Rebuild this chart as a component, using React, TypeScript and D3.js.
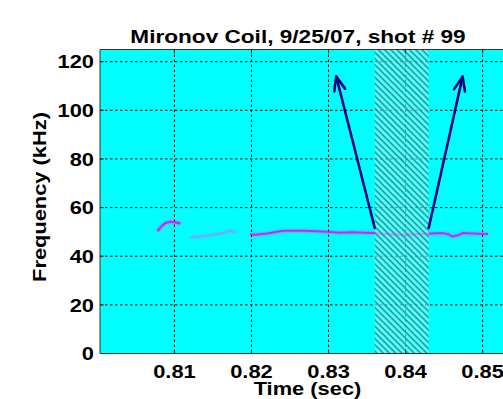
import React, { useEffect, useRef } from "react";
import * as d3 from "d3";

const title = "Mironov Coil, 9/25/07, shot # 99";
const xLabel = "Time (sec)";
const yLabel = "Frequency (kHz)";
const xTicks = [0.81, 0.82, 0.83, 0.84, 0.85];
const yTicks = [0, 20, 40, 60, 80, 100, 120];

// mode traces picked off the spectrogram (time in sec, freq in kHz)
const burstTime = [0.8078, 0.8083, 0.8088, 0.8094, 0.81, 0.8108];
const burstFreq = [50.3, 52.2, 53.6, 54.2, 54.0, 53.4];
const faintTime = [0.812, 0.8135, 0.815, 0.8163, 0.8172, 0.818];
const faintFreq = [47.7, 48.2, 48.8, 49.6, 50.6, 49.8];
const modeTime = [0.8198, 0.8205, 0.822, 0.8241, 0.8271, 0.8297, 0.8315, 0.833, 0.8357, 0.8393, 0.8427, 0.8448, 0.8456, 0.8461, 0.8468, 0.8474, 0.8496, 0.8507];
const modeFreq = [48.9, 48.8, 49.3, 50.5, 50.5, 50.1, 49.7, 49.9, 49.5, 48.7, 49.2, 49.5, 49.0, 48.1, 48.6, 49.5, 49.2, 49.1];

const bandStart = 0.836;
const bandEnd = 0.843;

const arrowTailTime = [0.836, 0.843];
const arrowTailFreq = [51.6, 51.6];
const arrowTipTime = [0.831, 0.8474];
const arrowTipFreq = [113.9, 113.8];

const font = "'Liberation Sans', Arial, Helvetica, sans-serif";

export default function App() {
  const ref = useRef<HTMLDivElement>(null);

  useEffect(() => {
    document.body.style.margin = "0";
    document.body.style.overflow = "hidden";
    const root = d3.select(ref.current);
    root.selectAll("*").remove();
    const width = 503;
    const height = 399;
    const left = 100;
    const right = 525;
    const top = 49.5;
    const bottom = 353.5;

    const svg = root
      .append("svg")
      .attr("width", width)
      .attr("height", height)
      .style("display", "block");

    const x = d3.scaleLinear().domain([0.80034, 0.8555]).range([left, right]);
    const y = d3.scaleLinear().domain([0, 125]).range([bottom, top]);

    const defs = svg.append("defs");
    const pat = defs
      .append("pattern")
      .attr("id", "hatch")
      .attr("patternUnits", "userSpaceOnUse")
      .attr("width", 4.4)
      .attr("height", 4.4)
      .attr("patternTransform", "rotate(45)");
    pat.append("rect").attr("width", 4.4).attr("height", 4.4).attr("fill", "#8cffff").attr("fill-opacity", 0.6);
    pat.append("rect").attr("width", 4.4).attr("height", 1.5).attr("fill", "#137a7a").attr("fill-opacity", 0.8);
    defs
      .append("clipPath")
      .attr("id", "plotclip")
      .append("rect")
      .attr("x", left)
      .attr("y", top)
      .attr("width", right - left)
      .attr("height", bottom - top);

    const plot = svg.append("g").attr("clip-path", "url(#plotclip)");
    plot
      .append("rect")
      .attr("x", left)
      .attr("y", top)
      .attr("width", right - left)
      .attr("height", bottom - top)
      .attr("fill", "#00ffff");

    // grid
    plot
      .selectAll("line.gx")
      .data(xTicks)
      .join("line")
      .attr("x1", (d) => x(d))
      .attr("x2", (d) => x(d))
      .attr("y1", top)
      .attr("y2", bottom)
      .attr("stroke", "#000")
      .attr("stroke-dasharray", "2.5,2.5")
      .attr("stroke-width", 1);
    plot
      .selectAll("line.gy")
      .data(yTicks)
      .join("line")
      .attr("x1", left)
      .attr("x2", right)
      .attr("y1", (d) => y(d))
      .attr("y2", (d) => y(d))
      .attr("stroke", "#000")
      .attr("stroke-dasharray", "2.5,2.5")
      .attr("stroke-width", 1);

    const line = d3
      .line<number>()
      .x((d) => x(d[0]))
      .y((d) => y(d[1]))
      .curve(d3.curveLinear);
    const traces = [
      { t: burstTime, f: burstFreq, c: "#ff00ff", w: 2.2, o: 0.9 },
      { t: faintTime, f: faintFreq, c: "#c070ff", w: 2.2, o: 0.5 },
      { t: modeTime, f: modeFreq, c: "#ff00ff", w: 2.0, o: 0.9 },
    ];
    traces.forEach((tr) => {
      const pts = tr.t.map((t, i) => [t, tr.f[i]]);
      plot
        .append("path")
        .attr("d", line(pts as any))
        .attr("fill", "none")
        .attr("stroke", tr.c)
        .attr("stroke-width", tr.w + 2.5)
        .attr("stroke-opacity", 0.15)
        .attr("stroke-linejoin", "round");
      plot
        .append("path")
        .attr("d", line(pts as any))
        .attr("fill", "none")
        .attr("stroke", tr.c)
        .attr("stroke-width", tr.w)
        .attr("stroke-opacity", tr.o)
        .attr("stroke-linejoin", "round");
    });

    // hatched band
    plot
      .append("rect")
      .attr("x", x(bandStart))
      .attr("y", top)
      .attr("width", x(bandEnd) - x(bandStart))
      .attr("height", bottom - top)
      .attr("fill", "url(#hatch)");

    // arrows
    arrowTailTime.forEach((_, i) => {
      const x0 = x(arrowTailTime[i]);
      const y0 = y(arrowTailFreq[i]);
      const x1 = x(arrowTipTime[i]);
      const y1 = y(arrowTipFreq[i]);
      const ang = Math.atan2(y1 - y0, x1 - x0);
      const hl = 15;
      const spread = 0.38;
      const g = plot.append("g").attr("stroke", "#000080").attr("stroke-width", 2.6).attr("fill", "none").attr("stroke-linecap", "round");
      g.append("line").attr("x1", x0).attr("y1", y0).attr("x2", x1).attr("y2", y1);
      [-spread, spread].forEach((s) => {
        g.append("line")
          .attr("x1", x1)
          .attr("y1", y1)
          .attr("x2", x1 - hl * Math.cos(ang + s))
          .attr("y2", y1 - hl * Math.sin(ang + s));
      });
    });

    // ticks inside
    const axes = svg.append("g").attr("stroke", "#222").attr("stroke-width", 1);
    xTicks.forEach((d) => {
      axes.append("line").attr("x1", x(d)).attr("x2", x(d)).attr("y1", top).attr("y2", top + 4);
      axes.append("line").attr("x1", x(d)).attr("x2", x(d)).attr("y1", bottom).attr("y2", bottom - 4);
    });
    yTicks.forEach((d) => {
      axes.append("line").attr("x1", left).attr("x2", left + 4).attr("y1", y(d)).attr("y2", y(d));
    });
    axes
      .append("path")
      .attr("d", `M${right},${top}H${left}V${bottom}H${right}`)
      .attr("fill", "none")
      .attr("stroke", "#333");

    const text = (tx: number, ty: number, s: string, anchor: string, rot = 0, sx = 1.15) =>
      svg
        .append("text")
        .attr("transform", `translate(${tx},${ty}) rotate(${rot}) scale(${sx},1)`)
        .attr("text-anchor", anchor)
        .attr("font-family", font)
        .attr("font-weight", "bold")
        .attr("font-size", 19)
        .attr("fill", "#000")
        .text(s);

    xTicks.forEach((d) => text(x(d), 377.5, d3.format(".2f")(d), "middle"));
    yTicks.forEach((d) => text(94, y(d) + 6.7, String(d), "end"));
    text(298, 42.5, title, "middle", 0, 1.19);
    text(307.5, 394.5, xLabel, "middle");
    text(46, 197, yLabel, "middle", -90);
  }, []);

  return <div ref={ref}></div>;
}
